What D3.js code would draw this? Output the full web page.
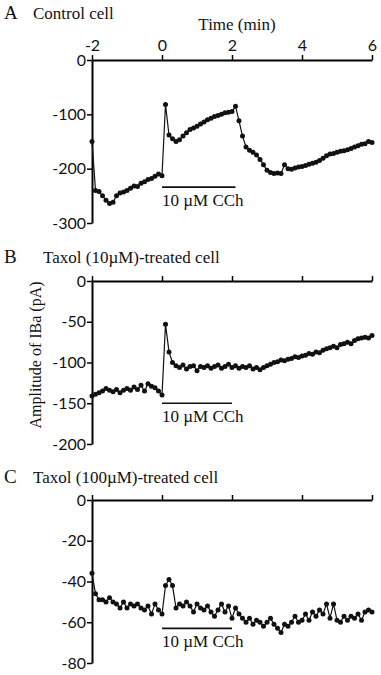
<!DOCTYPE html>
<html>
<head>
<meta charset="utf-8">
<script src="https://cdn.jsdelivr.net/npm/d3@7"></script>
<style>
    html, body { margin: 0; padding: 0; background: #fff; }
    svg { display: block; }
    .serif { font-family: "Liberation Serif", "DejaVu Serif", serif; fill: #111; }
    .tick text { font-family: "Lato", "Open Sans", sans-serif; font-size: 16px; fill: #111; }
</style>
</head>
<body>
<div id="chart"></div>
<script>
// ---- data (time in min, IBa amplitude in pA) ----
const timeMin = [
    -2.0, -1.9, -1.8, -1.7, -1.6, -1.5, -1.4, -1.3, -1.2, -1.1,
    -1.0, -0.9, -0.8, -0.7, -0.6, -0.5, -0.4, -0.3, -0.2, -0.1,
    0.0, 0.1, 0.2, 0.3, 0.4, 0.5, 0.6, 0.7, 0.8, 0.9,
    1.0, 1.1, 1.2, 1.3, 1.4, 1.5, 1.6, 1.7, 1.8, 1.9,
    2.0, 2.1, 2.2, 2.3, 2.4, 2.5, 2.6, 2.7, 2.8, 2.9,
    3.0, 3.1, 3.2, 3.3, 3.4, 3.5, 3.6, 3.7, 3.8, 3.9,
    4.0, 4.1, 4.2, 4.3, 4.4, 4.5, 4.6, 4.7, 4.8, 4.9,
    5.0, 5.1, 5.2, 5.3, 5.4, 5.5, 5.6, 5.7, 5.8, 5.9,
    6.0
];

const controlCell = [
    -150, -240, -242, -250, -258, -264, -262, -250, -245, -243,
    -240, -236, -232, -233, -227, -224, -220, -218, -214, -210,
    -213, -82, -138, -145, -150, -147, -140, -134, -128, -125,
    -122, -118, -114, -110, -107, -104, -102, -100, -97, -96,
    -95, -85, -112, -140, -160, -166, -170, -175, -183, -193,
    -203, -207, -209, -208, -209, -193, -200, -201, -199, -197,
    -196, -194, -192, -190, -188, -185, -181, -176, -173, -172,
    -170, -168, -167, -165, -163, -160, -158, -155, -154, -150,
    -152
];

const taxol10Cell = [
    -141, -139, -137, -135, -132, -134, -136, -133, -137, -134,
    -132, -134, -130, -133, -128, -135, -126, -129, -131, -135,
    -140, -53, -87, -100, -104, -106, -103, -108, -105, -104,
    -110, -105, -106, -104, -107, -105, -103, -107, -105, -102,
    -106, -104, -107, -105, -106, -104, -108, -106, -109, -106,
    -104, -102, -100, -99, -97, -98, -96, -95, -93, -94,
    -92, -91, -89, -90, -87, -88, -85, -83, -82, -80,
    -82, -78, -77, -75, -77, -73, -71, -70, -69, -70,
    -67
];

const taxol100Cell = [
    -36, -46, -49, -49, -50, -48, -50, -51, -53, -50,
    -53, -51, -52, -51, -53, -54, -52, -56, -51, -54,
    -56, -42, -39, -42, -53, -51, -52, -50, -52, -55,
    -51, -53, -54, -52, -55, -57, -54, -51, -55, -52,
    -58, -53, -56, -58, -60, -58, -61, -59, -60, -62,
    -60, -58, -61, -63, -65, -61, -62, -60, -57, -60,
    -59, -56, -59, -55, -57, -54, -56, -51, -58, -51,
    -59, -60, -57, -59, -57, -58, -56, -59, -55, -54,
    -55
];

const timeTicks = [-2, 0, 2, 4, 6];
const panelLetters = ["A", "B", "C"];
const panelTitles = ["Control cell", "Taxol (10\u00B5M)-treated cell", "Taxol (100\u00B5M)-treated cell"];
const panelSeries = [controlCell, taxol10Cell, taxol100Cell];
const yDomains = [[-300, 0], [-200, 0], [-80, 0]];
const yTicks = [[0, -100, -200, -300], [0, -50, -100, -150, -200], [0, -20, -40, -60, -80]];
// carbachol application bar: start, end (min) and level (pA)
const stimStart = [0, 0, 0];
const stimEnd = [2.1, 2.0, 2.0];
const stimLevel = [-234, -150, -63];
const stimLabel = "10 \u00B5M CCh";

// ---- layout ----
const W = 381, H = 675;
const panelTop = [60, 281, 500];
const panelHeight = 163;
const titleY = [19, 263, 483];
const titleX = [33, 43, 33];

const svg = d3.select("#chart").append("svg")
    .attr("width", W)
    .attr("height", H);

const x = d3.scaleLinear().domain([-2, 6]).range([92, 372]);

panelSeries.forEach((series, i) => {
    const y = d3.scaleLinear()
        .domain(yDomains[i])
        .range([panelTop[i] + panelHeight, panelTop[i]]);

    const g = svg.append("g");

    // panel title
    g.append("text").attr("class", "serif")
        .attr("x", 4).attr("y", titleY[i])
        .attr("font-size", 19)
        .text(panelLetters[i]);
    g.append("text").attr("class", "serif")
        .attr("x", titleX[i]).attr("y", titleY[i])
        .attr("font-size", 17)
        .text(panelTitles[i]);

    // x axis along 0 pA, ticks pointing up
    const xAxis = g.append("g")
        .attr("transform", `translate(0,${y(0)})`)
        .call(d3.axisTop(x)
            .tickValues(timeTicks)
            .tickSize(5)
            .tickSizeOuter(0)
            .tickFormat(i === 0 ? (d => String(d)) : () => ""));
    xAxis.select(".domain").attr("stroke-width", 2);
    xAxis.selectAll(".tick line").attr("stroke-width", 1.5);
    xAxis.selectAll(".tick text").attr("dy", "-0.05em");

    // y axis
    const yAxis = g.append("g")
        .attr("transform", `translate(${x(-2)},0)`)
        .call(d3.axisLeft(y)
            .tickValues(yTicks[i])
            .tickSize(5)
            .tickSizeOuter(0)
            .tickFormat(d => String(d)));
    yAxis.select(".domain").attr("stroke-width", 2);
    yAxis.selectAll(".tick line").attr("stroke-width", 1.5);
    yAxis.selectAll(".tick text").attr("x", -6);

    // stimulus bar + label
    g.append("line")
        .attr("x1", x(stimStart[i])).attr("x2", x(stimEnd[i]))
        .attr("y1", y(stimLevel[i])).attr("y2", y(stimLevel[i]))
        .attr("stroke", "#111")
        .attr("stroke-width", 1.6);
    g.append("text").attr("class", "serif")
        .attr("x", x(stimStart[i]))
        .attr("y", y(stimLevel[i]) + 19)
        .attr("font-size", 17)
        .text(stimLabel);

    // trace
    const points = timeMin.map((t, k) => ({ t: t, v: series[k] }));
    const line = d3.line()
        .x(d => x(d.t))
        .y(d => y(d.v));

    g.append("path")
        .datum(points)
        .attr("fill", "none")
        .attr("stroke", "#111")
        .attr("stroke-width", 1.2)
        .attr("d", line);

    g.selectAll("circle.pt")
        .data(points)
        .enter()
        .append("circle")
        .attr("class", "pt")
        .attr("cx", d => x(d.t))
        .attr("cy", d => y(d.v))
        .attr("r", 2.5)
        .attr("fill", "#111");

    // time axis title only on the top panel
    if (i === 0) {
        g.append("text").attr("class", "serif")
            .attr("x", 237).attr("y", 30)
            .attr("text-anchor", "middle")
            .attr("font-size", 17)
            .text("Time (min)");
    }
});

// shared y axis label
svg.append("text").attr("class", "serif")
    .attr("transform", "translate(41,355) rotate(-90)")
    .attr("text-anchor", "middle")
    .attr("font-size", 16)
    .text("Amplitude of IBa (pA)");
</script>
</body>
</html>
